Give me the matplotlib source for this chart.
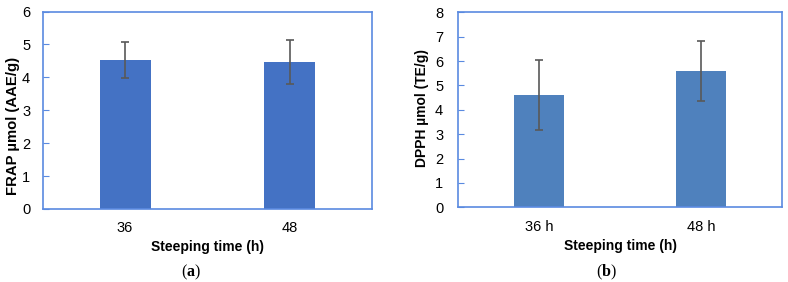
import matplotlib
matplotlib.use("Agg")
import matplotlib.pyplot as plt

plt.rcParams['font.family'] = ['Liberation Sans', 'DejaVu Sans']
plt.rcParams['mathtext.fontset'] = 'custom'
plt.rcParams['mathtext.bf'] = 'Liberation Serif:bold'
plt.rcParams['mathtext.rm'] = 'Liberation Serif'

cats_a = ["36", "48"]
frap = [4.54, 4.47]
frap_err = [0.55, 0.67]

cats_b = ["36 h", "48 h"]
dpph = [4.60, 5.58]
dpph_err = [1.44, 1.23]

fig = plt.figure(figsize=(7.88, 2.82), dpi=100)
spine_col = "#5A8AE0"

def style(ax, ymax, ylabel, ysize, ypos, lpad, tpad, cats, letter, cx):
    ax.set_xlim(-0.5, 1.5)
    ax.set_ylim(0, ymax)
    ax.set_yticks(range(0, ymax + 1))
    ax.set_xticks(range(len(cats)))
    ax.set_xticklabels(cats)
    for s in ax.spines.values():
        s.set_color(spine_col)
        s.set_linewidth(1.2)
    ax.tick_params(axis='y', direction='in', length=4, color=spine_col, labelsize=10.5, pad=tpad)
    ax.tick_params(axis='x', length=0, labelsize=10.5, pad=9)
    ax.set_ylabel(ylabel, fontsize=ysize, fontweight='bold', labelpad=lpad)
    ax.yaxis.label.set_y(ypos)
    ax.set_xlabel("Steeping time (h)", fontsize=10, fontweight='bold', labelpad=3.5)
    fig.text(cx, 0.035, "(" + r"$\mathbf{" + letter + "}$" + ")", ha='center', va='center',
             fontsize=11.5, family='Liberation Serif')

ax1 = fig.add_axes([0.0542, 0.259, 0.418, 0.70])
ax1.bar(range(len(frap)), frap, width=0.31, color="#4472C4",
        yerr=frap_err, error_kw=dict(ecolor="#595959", elinewidth=1.2, capsize=3, capthick=1.2))
style(ax1, 6, "FRAP µmol (AAE/g)", 10.7, 0.42, 1.5, 9, cats_a, "a", 191 / 788)

ax2 = fig.add_axes([0.581, 0.265, 0.412, 0.691])
ax2.bar(range(len(dpph)), dpph, width=0.31, color="#4F81BD",
        yerr=dpph_err, error_kw=dict(ecolor="#595959", elinewidth=1.2, capsize=3, capthick=1.2))
style(ax2, 8, "DPPH µmol (TE/g)", 10, 0.51, 4, 10.5, cats_b, "b", 606 / 788)

fig.savefig("out.png", dpi=100)
